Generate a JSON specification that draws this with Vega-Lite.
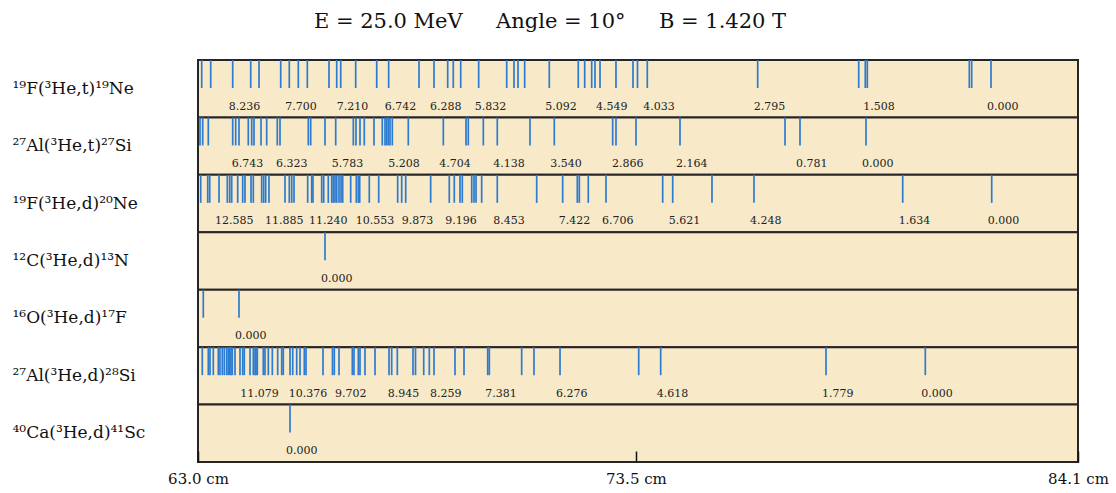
{
  "$schema": "https://vega.github.io/schema/vega-lite/v6.json",
  "width": 880,
  "height": 402,
  "autosize": "none",
  "padding": {"left": 198, "top": 60, "right": 38, "bottom": 31},
  "background": "white",
  "title": {
    "text": "E = 25.0 MeV \u00a0\u00a0\u00a0 Angle = 10° \u00a0\u00a0\u00a0 B = 1.420 T",
    "font": "DejaVu Serif",
    "fontSize": 21,
    "fontWeight": "normal",
    "color": "#111",
    "anchor": "middle",
    "dx": -88,
    "baseline": "alphabetic",
    "offset": 10
  },
  "datasets": {
    "reactions": [
      {"reaction": "¹⁹F(³He,t)¹⁹Ne"},
      {"reaction": "²⁷Al(³He,t)²⁷Si"},
      {"reaction": "¹⁹F(³He,d)²⁰Ne"},
      {"reaction": "¹²C(³He,d)¹³N"},
      {"reaction": "¹⁶O(³He,d)¹⁷F"},
      {"reaction": "²⁷Al(³He,d)²⁸Si"},
      {"reaction": "⁴⁰Ca(³He,d)⁴¹Sc"}
    ],
    "lines": [
      {"reaction": "¹⁹F(³He,t)¹⁹Ne", "pos": 63.089},
      {"reaction": "¹⁹F(³He,t)¹⁹Ne", "pos": 63.305},
      {"reaction": "¹⁹F(³He,t)¹⁹Ne", "pos": 63.832, "E": "8.236"},
      {"reaction": "¹⁹F(³He,t)¹⁹Ne", "pos": 64.264},
      {"reaction": "¹⁹F(³He,t)¹⁹Ne", "pos": 64.463},
      {"reaction": "¹⁹F(³He,t)¹⁹Ne", "pos": 64.983},
      {"reaction": "¹⁹F(³He,t)¹⁹Ne", "pos": 65.189, "E": "7.700"},
      {"reaction": "¹⁹F(³He,t)¹⁹Ne", "pos": 65.405},
      {"reaction": "¹⁹F(³He,t)¹⁹Ne", "pos": 65.621},
      {"reaction": "¹⁹F(³He,t)¹⁹Ne", "pos": 66.141},
      {"reaction": "¹⁹F(³He,t)¹⁹Ne", "pos": 66.326},
      {"reaction": "¹⁹F(³He,t)¹⁹Ne", "pos": 66.422, "E": "7.210"},
      {"reaction": "¹⁹F(³He,t)¹⁹Ne", "pos": 66.781},
      {"reaction": "¹⁹F(³He,t)¹⁹Ne", "pos": 67.285},
      {"reaction": "¹⁹F(³He,t)¹⁹Ne", "pos": 67.572, "E": "6.742"},
      {"reaction": "¹⁹F(³He,t)¹⁹Ne", "pos": 68.299},
      {"reaction": "¹⁹F(³He,t)¹⁹Ne", "pos": 68.659, "E": "6.288"},
      {"reaction": "¹⁹F(³He,t)¹⁹Ne", "pos": 68.987},
      {"reaction": "¹⁹F(³He,t)¹⁹Ne", "pos": 69.121},
      {"reaction": "¹⁹F(³He,t)¹⁹Ne", "pos": 69.299},
      {"reaction": "¹⁹F(³He,t)¹⁹Ne", "pos": 69.730, "E": "5.832"},
      {"reaction": "¹⁹F(³He,t)¹⁹Ne", "pos": 70.402},
      {"reaction": "¹⁹F(³He,t)¹⁹Ne", "pos": 70.577},
      {"reaction": "¹⁹F(³He,t)¹⁹Ne", "pos": 70.673},
      {"reaction": "¹⁹F(³He,t)¹⁹Ne", "pos": 70.833},
      {"reaction": "¹⁹F(³He,t)¹⁹Ne", "pos": 71.423, "E": "5.092"},
      {"reaction": "¹⁹F(³He,t)¹⁹Ne", "pos": 72.118},
      {"reaction": "¹⁹F(³He,t)¹⁹Ne", "pos": 72.272},
      {"reaction": "¹⁹F(³He,t)¹⁹Ne", "pos": 72.440},
      {"reaction": "¹⁹F(³He,t)¹⁹Ne", "pos": 72.519},
      {"reaction": "¹⁹F(³He,t)¹⁹Ne", "pos": 72.639, "E": "4.549"},
      {"reaction": "¹⁹F(³He,t)¹⁹Ne", "pos": 73.022},
      {"reaction": "¹⁹F(³He,t)¹⁹Ne", "pos": 73.430},
      {"reaction": "¹⁹F(³He,t)¹⁹Ne", "pos": 73.538},
      {"reaction": "¹⁹F(³He,t)¹⁹Ne", "pos": 73.773, "E": "4.033"},
      {"reaction": "¹⁹F(³He,t)¹⁹Ne", "pos": 76.420, "E": "2.795"},
      {"reaction": "¹⁹F(³He,t)¹⁹Ne", "pos": 78.842},
      {"reaction": "¹⁹F(³He,t)¹⁹Ne", "pos": 79.000},
      {"reaction": "¹⁹F(³He,t)¹⁹Ne", "pos": 79.048, "E": "1.508"},
      {"reaction": "¹⁹F(³He,t)¹⁹Ne", "pos": 81.494},
      {"reaction": "¹⁹F(³He,t)¹⁹Ne", "pos": 81.551},
      {"reaction": "¹⁹F(³He,t)¹⁹Ne", "pos": 82.014, "E": "0.000"},

      {"reaction": "²⁷Al(³He,t)²⁷Si", "pos": 63.048},
      {"reaction": "²⁷Al(³He,t)²⁷Si", "pos": 63.113},
      {"reaction": "²⁷Al(³He,t)²⁷Si", "pos": 63.247},
      {"reaction": "²⁷Al(³He,t)²⁷Si", "pos": 63.832},
      {"reaction": "²⁷Al(³He,t)²⁷Si", "pos": 63.904, "E": "6.743"},
      {"reaction": "²⁷Al(³He,t)²⁷Si", "pos": 63.983},
      {"reaction": "²⁷Al(³He,t)²⁷Si", "pos": 64.206},
      {"reaction": "²⁷Al(³He,t)²⁷Si", "pos": 64.288},
      {"reaction": "²⁷Al(³He,t)²⁷Si", "pos": 64.343},
      {"reaction": "²⁷Al(³He,t)²⁷Si", "pos": 64.511},
      {"reaction": "²⁷Al(³He,t)²⁷Si", "pos": 64.647},
      {"reaction": "²⁷Al(³He,t)²⁷Si", "pos": 64.901},
      {"reaction": "²⁷Al(³He,t)²⁷Si", "pos": 64.966, "E": "6.323"},
      {"reaction": "²⁷Al(³He,t)²⁷Si", "pos": 65.645},
      {"reaction": "²⁷Al(³He,t)²⁷Si", "pos": 65.702},
      {"reaction": "²⁷Al(³He,t)²⁷Si", "pos": 66.045},
      {"reaction": "²⁷Al(³He,t)²⁷Si", "pos": 66.302, "E": "5.783"},
      {"reaction": "²⁷Al(³He,t)²⁷Si", "pos": 66.724},
      {"reaction": "²⁷Al(³He,t)²⁷Si", "pos": 66.788},
      {"reaction": "²⁷Al(³He,t)²⁷Si", "pos": 66.884},
      {"reaction": "²⁷Al(³He,t)²⁷Si", "pos": 66.987},
      {"reaction": "²⁷Al(³He,t)²⁷Si", "pos": 67.220},
      {"reaction": "²⁷Al(³He,t)²⁷Si", "pos": 67.419},
      {"reaction": "²⁷Al(³He,t)²⁷Si", "pos": 67.484},
      {"reaction": "²⁷Al(³He,t)²⁷Si", "pos": 67.525},
      {"reaction": "²⁷Al(³He,t)²⁷Si", "pos": 67.563},
      {"reaction": "²⁷Al(³He,t)²⁷Si", "pos": 67.604},
      {"reaction": "²⁷Al(³He,t)²⁷Si", "pos": 67.659, "E": "5.208"},
      {"reaction": "²⁷Al(³He,t)²⁷Si", "pos": 68.042},
      {"reaction": "²⁷Al(³He,t)²⁷Si", "pos": 68.882, "E": "4.704"},
      {"reaction": "²⁷Al(³He,t)²⁷Si", "pos": 69.426},
      {"reaction": "²⁷Al(³He,t)²⁷Si", "pos": 69.481},
      {"reaction": "²⁷Al(³He,t)²⁷Si", "pos": 69.841},
      {"reaction": "²⁷Al(³He,t)²⁷Si", "pos": 70.176, "E": "4.138"},
      {"reaction": "²⁷Al(³He,t)²⁷Si", "pos": 70.960},
      {"reaction": "²⁷Al(³He,t)²⁷Si", "pos": 71.543, "E": "3.540"},
      {"reaction": "²⁷Al(³He,t)²⁷Si", "pos": 72.943},
      {"reaction": "²⁷Al(³He,t)²⁷Si", "pos": 73.022, "E": "2.866"},
      {"reaction": "²⁷Al(³He,t)²⁷Si", "pos": 73.502},
      {"reaction": "²⁷Al(³He,t)²⁷Si", "pos": 74.557, "E": "2.164"},
      {"reaction": "²⁷Al(³He,t)²⁷Si", "pos": 77.075},
      {"reaction": "²⁷Al(³He,t)²⁷Si", "pos": 77.434, "E": "0.781"},
      {"reaction": "²⁷Al(³He,t)²⁷Si", "pos": 79.017, "E": "0.000"},

      {"reaction": "¹⁹F(³He,d)²⁰Ne", "pos": 63.065},
      {"reaction": "¹⁹F(³He,d)²⁰Ne", "pos": 63.233},
      {"reaction": "¹⁹F(³He,d)²⁰Ne", "pos": 63.281},
      {"reaction": "¹⁹F(³He,d)²⁰Ne", "pos": 63.504, "E": "12.585"},
      {"reaction": "¹⁹F(³He,d)²⁰Ne", "pos": 63.703},
      {"reaction": "¹⁹F(³He,d)²⁰Ne", "pos": 63.760},
      {"reaction": "¹⁹F(³He,d)²⁰Ne", "pos": 63.808},
      {"reaction": "¹⁹F(³He,d)²⁰Ne", "pos": 63.952},
      {"reaction": "¹⁹F(³He,d)²⁰Ne", "pos": 64.072},
      {"reaction": "¹⁹F(³He,d)²⁰Ne", "pos": 64.127},
      {"reaction": "¹⁹F(³He,d)²⁰Ne", "pos": 64.271},
      {"reaction": "¹⁹F(³He,d)²⁰Ne", "pos": 64.326},
      {"reaction": "¹⁹F(³He,d)²⁰Ne", "pos": 64.527},
      {"reaction": "¹⁹F(³He,d)²⁰Ne", "pos": 64.575},
      {"reaction": "¹⁹F(³He,d)²⁰Ne", "pos": 64.623},
      {"reaction": "¹⁹F(³He,d)²⁰Ne", "pos": 64.702, "E": "11.885"},
      {"reaction": "¹⁹F(³He,d)²⁰Ne", "pos": 65.086},
      {"reaction": "¹⁹F(³He,d)²⁰Ne", "pos": 65.189},
      {"reaction": "¹⁹F(³He,d)²⁰Ne", "pos": 65.247},
      {"reaction": "¹⁹F(³He,d)²⁰Ne", "pos": 65.302},
      {"reaction": "¹⁹F(³He,d)²⁰Ne", "pos": 65.630},
      {"reaction": "¹⁹F(³He,d)²⁰Ne", "pos": 65.726},
      {"reaction": "¹⁹F(³He,d)²⁰Ne", "pos": 65.757, "E": "11.240"},
      {"reaction": "¹⁹F(³He,d)²⁰Ne", "pos": 65.966},
      {"reaction": "¹⁹F(³He,d)²⁰Ne", "pos": 66.014},
      {"reaction": "¹⁹F(³He,d)²⁰Ne", "pos": 66.124},
      {"reaction": "¹⁹F(³He,d)²⁰Ne", "pos": 66.206},
      {"reaction": "¹⁹F(³He,d)²⁰Ne", "pos": 66.244},
      {"reaction": "¹⁹F(³He,d)²⁰Ne", "pos": 66.285},
      {"reaction": "¹⁹F(³He,d)²⁰Ne", "pos": 66.326},
      {"reaction": "¹⁹F(³He,d)²⁰Ne", "pos": 66.381},
      {"reaction": "¹⁹F(³He,d)²⁰Ne", "pos": 66.429},
      {"reaction": "¹⁹F(³He,d)²⁰Ne", "pos": 66.469},
      {"reaction": "¹⁹F(³He,d)²⁰Ne", "pos": 66.661},
      {"reaction": "¹⁹F(³He,d)²⁰Ne", "pos": 66.796},
      {"reaction": "¹⁹F(³He,d)²⁰Ne", "pos": 66.844},
      {"reaction": "¹⁹F(³He,d)²⁰Ne", "pos": 66.877, "E": "10.553"},
      {"reaction": "¹⁹F(³He,d)²⁰Ne", "pos": 67.107},
      {"reaction": "¹⁹F(³He,d)²⁰Ne", "pos": 67.333},
      {"reaction": "¹⁹F(³He,d)²⁰Ne", "pos": 67.788},
      {"reaction": "¹⁹F(³He,d)²⁰Ne", "pos": 67.884},
      {"reaction": "¹⁹F(³He,d)²⁰Ne", "pos": 67.980, "E": "9.873"},
      {"reaction": "¹⁹F(³He,d)²⁰Ne", "pos": 68.579},
      {"reaction": "¹⁹F(³He,d)²⁰Ne", "pos": 69.025, "E": "9.196"},
      {"reaction": "¹⁹F(³He,d)²⁰Ne", "pos": 69.145},
      {"reaction": "¹⁹F(³He,d)²⁰Ne", "pos": 69.282},
      {"reaction": "¹⁹F(³He,d)²⁰Ne", "pos": 69.337},
      {"reaction": "¹⁹F(³He,d)²⁰Ne", "pos": 69.563},
      {"reaction": "¹⁹F(³He,d)²⁰Ne", "pos": 69.618},
      {"reaction": "¹⁹F(³He,d)²⁰Ne", "pos": 69.666},
      {"reaction": "¹⁹F(³He,d)²⁰Ne", "pos": 69.802},
      {"reaction": "¹⁹F(³He,d)²⁰Ne", "pos": 70.176, "E": "8.453"},
      {"reaction": "¹⁹F(³He,d)²⁰Ne", "pos": 71.121},
      {"reaction": "¹⁹F(³He,d)²⁰Ne", "pos": 71.744, "E": "7.422"},
      {"reaction": "¹⁹F(³He,d)²⁰Ne", "pos": 72.095},
      {"reaction": "¹⁹F(³He,d)²⁰Ne", "pos": 72.143},
      {"reaction": "¹⁹F(³He,d)²⁰Ne", "pos": 72.358},
      {"reaction": "¹⁹F(³He,d)²⁰Ne", "pos": 72.783, "E": "6.706"},
      {"reaction": "¹⁹F(³He,d)²⁰Ne", "pos": 74.142},
      {"reaction": "¹⁹F(³He,d)²⁰Ne", "pos": 74.382, "E": "5.621"},
      {"reaction": "¹⁹F(³He,d)²⁰Ne", "pos": 75.324},
      {"reaction": "¹⁹F(³He,d)²⁰Ne", "pos": 76.331, "E": "4.248"},
      {"reaction": "¹⁹F(³He,d)²⁰Ne", "pos": 79.897, "E": "1.634"},
      {"reaction": "¹⁹F(³He,d)²⁰Ne", "pos": 82.031, "E": "0.000"},

      {"reaction": "¹²C(³He,d)¹³N", "pos": 66.045, "E": "0.000"},

      {"reaction": "¹⁶O(³He,d)¹⁷F", "pos": 63.127},
      {"reaction": "¹⁶O(³He,d)¹⁷F", "pos": 63.983, "E": "0.000"},

      {"reaction": "²⁷Al(³He,d)²⁸Si", "pos": 63.103},
      {"reaction": "²⁷Al(³He,d)²⁸Si", "pos": 63.247},
      {"reaction": "²⁷Al(³He,d)²⁸Si", "pos": 63.288},
      {"reaction": "²⁷Al(³He,d)²⁸Si", "pos": 63.367},
      {"reaction": "²⁷Al(³He,d)²⁸Si", "pos": 63.487},
      {"reaction": "²⁷Al(³He,d)²⁸Si", "pos": 63.527},
      {"reaction": "²⁷Al(³He,d)²⁸Si", "pos": 63.583},
      {"reaction": "²⁷Al(³He,d)²⁸Si", "pos": 63.631},
      {"reaction": "²⁷Al(³He,d)²⁸Si", "pos": 63.688},
      {"reaction": "²⁷Al(³He,d)²⁸Si", "pos": 63.726},
      {"reaction": "²⁷Al(³He,d)²⁸Si", "pos": 63.760},
      {"reaction": "²⁷Al(³He,d)²⁸Si", "pos": 63.791},
      {"reaction": "²⁷Al(³He,d)²⁸Si", "pos": 63.822},
      {"reaction": "²⁷Al(³He,d)²⁸Si", "pos": 63.887},
      {"reaction": "²⁷Al(³He,d)²⁸Si", "pos": 64.007},
      {"reaction": "²⁷Al(³He,d)²⁸Si", "pos": 64.072},
      {"reaction": "²⁷Al(³He,d)²⁸Si", "pos": 64.110, "E": "11.079"},
      {"reaction": "²⁷Al(³He,d)²⁸Si", "pos": 64.247},
      {"reaction": "²⁷Al(³He,d)²⁸Si", "pos": 64.326},
      {"reaction": "²⁷Al(³He,d)²⁸Si", "pos": 64.367},
      {"reaction": "²⁷Al(³He,d)²⁸Si", "pos": 64.391},
      {"reaction": "²⁷Al(³He,d)²⁸Si", "pos": 64.422},
      {"reaction": "²⁷Al(³He,d)²⁸Si", "pos": 64.566},
      {"reaction": "²⁷Al(³He,d)²⁸Si", "pos": 64.606},
      {"reaction": "²⁷Al(³He,d)²⁸Si", "pos": 64.686},
      {"reaction": "²⁷Al(³He,d)²⁸Si", "pos": 64.782},
      {"reaction": "²⁷Al(³He,d)²⁸Si", "pos": 64.911},
      {"reaction": "²⁷Al(³He,d)²⁸Si", "pos": 65.007},
      {"reaction": "²⁷Al(³He,d)²⁸Si", "pos": 65.045},
      {"reaction": "²⁷Al(³He,d)²⁸Si", "pos": 65.206},
      {"reaction": "²⁷Al(³He,d)²⁸Si", "pos": 65.271, "E": "10.376"},
      {"reaction": "²⁷Al(³He,d)²⁸Si", "pos": 65.367},
      {"reaction": "²⁷Al(³He,d)²⁸Si", "pos": 65.446},
      {"reaction": "²⁷Al(³He,d)²⁸Si", "pos": 65.549},
      {"reaction": "²⁷Al(³He,d)²⁸Si", "pos": 65.590},
      {"reaction": "²⁷Al(³He,d)²⁸Si", "pos": 65.997},
      {"reaction": "²⁷Al(³He,d)²⁸Si", "pos": 66.225},
      {"reaction": "²⁷Al(³He,d)²⁸Si", "pos": 66.268},
      {"reaction": "²⁷Al(³He,d)²⁸Si", "pos": 66.381, "E": "9.702"},
      {"reaction": "²⁷Al(³He,d)²⁸Si", "pos": 66.700},
      {"reaction": "²⁷Al(³He,d)²⁸Si", "pos": 66.740},
      {"reaction": "²⁷Al(³He,d)²⁸Si", "pos": 66.844},
      {"reaction": "²⁷Al(³He,d)²⁸Si", "pos": 66.884},
      {"reaction": "²⁷Al(³He,d)²⁸Si", "pos": 67.004},
      {"reaction": "²⁷Al(³He,d)²⁸Si", "pos": 67.244},
      {"reaction": "²⁷Al(³He,d)²⁸Si", "pos": 67.580},
      {"reaction": "²⁷Al(³He,d)²⁸Si", "pos": 67.644, "E": "8.945"},
      {"reaction": "²⁷Al(³He,d)²⁸Si", "pos": 67.779},
      {"reaction": "²⁷Al(³He,d)²⁸Si", "pos": 68.155},
      {"reaction": "²⁷Al(³He,d)²⁸Si", "pos": 68.215},
      {"reaction": "²⁷Al(³He,d)²⁸Si", "pos": 68.412},
      {"reaction": "²⁷Al(³He,d)²⁸Si", "pos": 68.546},
      {"reaction": "²⁷Al(³He,d)²⁸Si", "pos": 68.659, "E": "8.259"},
      {"reaction": "²⁷Al(³He,d)²⁸Si", "pos": 69.162},
      {"reaction": "²⁷Al(³He,d)²⁸Si", "pos": 69.378},
      {"reaction": "²⁷Al(³He,d)²⁸Si", "pos": 69.946},
      {"reaction": "²⁷Al(³He,d)²⁸Si", "pos": 69.985, "E": "7.381"},
      {"reaction": "²⁷Al(³He,d)²⁸Si", "pos": 70.761},
      {"reaction": "²⁷Al(³He,d)²⁸Si", "pos": 71.056},
      {"reaction": "²⁷Al(³He,d)²⁸Si", "pos": 71.680, "E": "6.276"},
      {"reaction": "²⁷Al(³He,d)²⁸Si", "pos": 73.567},
      {"reaction": "²⁷Al(³He,d)²⁸Si", "pos": 74.094, "E": "4.618"},
      {"reaction": "²⁷Al(³He,d)²⁸Si", "pos": 78.058, "E": "1.779"},
      {"reaction": "²⁷Al(³He,d)²⁸Si", "pos": 80.439, "E": "0.000"},

      {"reaction": "⁴⁰Ca(³He,d)⁴¹Sc", "pos": 65.206, "E": "0.000"}
    ]
  },
  "layer": [
    {
      "data": {"name": "reactions"},
      "mark": {"type": "rect", "fill": "#f8e9c8", "stroke": "#262626", "strokeWidth": 2},
      "encoding": {
        "x": {
          "datum": 63,
          "type": "quantitative",
          "scale": {"domain": [63, 84.1], "nice": false, "zero": false},
          "axis": {
            "values": [63, 73.5, 84.1],
            "labelExpr": "format(datum.value, '.1f') + ' cm'",
            "title": null,
            "grid": false,
            "domain": false,
            "ticks": true,
            "tickSize": -11,
            "tickWidth": 1.5,
            "tickColor": "#111",
            "labelPadding": 20,
            "labelFont": "DejaVu Serif",
            "labelFontSize": 15,
            "labelColor": "#111",
            "labelFlush": false,
            "labelOverlap": false,
            "zindex": 1
          }
        },
        "x2": {"datum": 84.1},
        "y": {
          "field": "reaction",
          "type": "nominal",
          "sort": null,
          "scale": {
            "domain": ["¹⁹F(³He,t)¹⁹Ne", "²⁷Al(³He,t)²⁷Si", "¹⁹F(³He,d)²⁰Ne", "¹²C(³He,d)¹³N", "¹⁶O(³He,d)¹⁷F", "²⁷Al(³He,d)²⁸Si", "⁴⁰Ca(³He,d)⁴¹Sc"],
            "paddingInner": 0,
            "paddingOuter": 0
          },
          "axis": {
            "title": null,
            "ticks": false,
            "domain": false,
            "grid": false,
            "labelAlign": "left",
            "labelBaseline": "middle",
            "labelPadding": 186,
            "labelFont": "DejaVu Serif",
            "labelFontSize": 17,
            "labelColor": "#111",
            "labelLimit": 0
          }
        }
      }
    },
    {
      "data": {"name": "lines"},
      "mark": {"type": "tick", "color": "#2c7bd1", "size": 28, "thickness": 1.7, "opacity": 1, "yOffset": -14.7},
      "encoding": {
        "x": {"field": "pos", "type": "quantitative"},
        "y": {"field": "reaction", "type": "nominal", "sort": null}
      }
    },
    {
      "data": {"name": "lines"},
      "transform": [{"filter": "isValid(datum.E)"}],
      "mark": {"type": "text", "align": "left", "baseline": "middle", "dx": -4, "font": "DejaVu Serif", "fontSize": 11, "color": "#222"},
      "encoding": {
        "x": {"field": "pos", "type": "quantitative"},
        "y": {"field": "reaction", "type": "nominal", "sort": null, "bandPosition": 0.81},
        "text": {"field": "E"}
      }
    }
  ],
  "config": {"view": {"stroke": null}}
}
